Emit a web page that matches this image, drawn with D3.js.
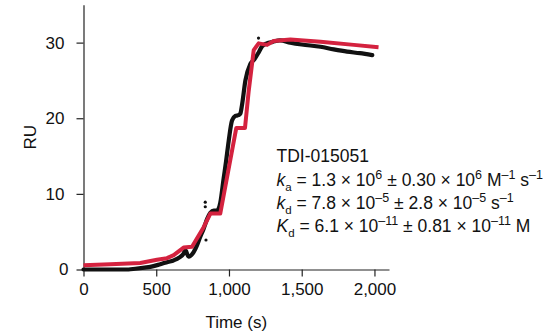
<!DOCTYPE html>
<html>
<head>
<meta charset="utf-8">
<script src="https://cdn.jsdelivr.net/npm/d3@7"></script>
<style>
  html, body { margin: 0; padding: 0; background: #fff; }
  svg { display: block; font-family: "Liberation Sans", Arial, sans-serif; }
</style>
</head>
<body>
<svg id="chart" width="560" height="336"></svg>
<script>
// ---- data ----
const xTicks = [0, 500, 1000, 1500, 2000];
const yTicks = [0, 10, 20, 30];

// measured sensorgram (black)
const dataTime = [0, 100, 184, 250, 310, 356, 420, 459, 528, 580, 619, 660, 688, 700, 722, 757, 780, 800, 826, 850, 872, 895, 918, 940, 963, 980, 998, 1021, 1044, 1065, 1078, 1090, 1113, 1147, 1175, 1204, 1227, 1260, 1300, 1350, 1422, 1500, 1629, 1720, 1812, 1900, 1985];
const dataRU   = [0, 0, 0, 0, 0, 0.1, 0.25, 0.35, 0.7, 1.0, 1.2, 1.6, 2.1, 2.55, 1.7, 2.3, 3.2, 4.2, 5.4, 6.7, 7.5, 7.8, 7.8, 8.8, 12.0, 14.3, 17.0, 19.7, 20.3, 20.4, 20.6, 21.8, 25.0, 27.2, 27.8, 28.7, 29.5, 29.9, 30.1, 30.3, 30.0, 29.75, 29.45, 29.1, 28.8, 28.6, 28.35];

// stray data points
const strayTime = [837, 837, 842, 1203];
const strayRU   = [8.9, 8.3, 3.9, 30.6];

// kinetic fit (red)
const fitTime = [0, 184, 390, 505, 574, 620, 688, 746, 826, 872, 940, 1050, 1110, 1135, 1170, 1204, 1262, 1307, 1422, 1629, 1858, 2028];
const fitRU   = [0.55, 0.7, 0.87, 1.3, 1.5, 1.9, 2.9, 3.0, 5.6, 7.4, 7.4, 18.7, 18.7, 23.5, 29.0, 29.9, 29.7, 30.2, 30.4, 30.1, 29.7, 29.4];

const xLabel = "Time (s)";
const yLabel = "RU";
const compound = "TDI-015051";

// ---- drawing ----
const svg = d3.select("#chart");
const x = d3.scaleLinear().domain([0, 2100]).range([83.5, 389]);
const y = d3.scaleLinear().domain([0, 35]).range([269.5, 4.8]);

const fmt = d3.format(",");

// axes
const gx = svg.append("g").attr("transform", `translate(0,${y(0)})`)
  .call(d3.axisBottom(x).tickValues(xTicks).tickFormat(fmt).tickSize(7).tickPadding(6).tickSizeOuter(0));
const gy = svg.append("g").attr("transform", `translate(${x(0)},0)`)
  .call(d3.axisLeft(y).tickValues(yTicks).tickSize(7).tickPadding(12).tickSizeOuter(0));

[gx, gy].forEach(g => {
  g.select(".domain").attr("stroke", "#222").attr("stroke-width", 1.2);
  g.selectAll(".tick line").attr("stroke", "#222").attr("stroke-width", 1.2);
  g.selectAll(".tick text").attr("fill", "#111").style("font-size", "17px")
    .style("font-family", "'Liberation Sans', Arial, sans-serif");
});
gy.selectAll(".tick text").filter(d => d === 0).attr("dx", 4);

// axis titles
svg.append("text").attr("x", (x(0) + x(2100)) / 2).attr("y", 328)
  .attr("text-anchor", "middle").style("font-size", "17px").attr("fill", "#111").text(xLabel);
svg.append("text").attr("transform", `translate(36,${(y(0) + y(35)) / 2}) rotate(-90)`)
  .attr("text-anchor", "middle").style("font-size", "17px").attr("fill", "#111").text(yLabel);

// data trace (black)
const dataPts = dataTime.map((t, i) => [t, dataRU[i]]);
const line = d3.line().x(d => x(d[0])).y(d => y(d[1])).curve(d3.curveMonotoneX);
svg.append("path").datum(dataPts).attr("d", line)
  .attr("fill", "none").attr("stroke", "#111").attr("stroke-width", 4.2)
  .attr("stroke-linecap", "round").attr("stroke-linejoin", "round");

svg.selectAll("circle.stray").data(strayTime.map((t, i) => [t, strayRU[i]]))
  .enter().append("circle").attr("class", "stray")
  .attr("cx", d => x(d[0])).attr("cy", d => y(d[1])).attr("r", 1.6).attr("fill", "#111");

// fit (red)
const fitPts = fitTime.map((t, i) => [t, fitRU[i]]);
const fitLine = d3.line().x(d => x(d[0])).y(d => y(d[1]));
svg.append("path").datum(fitPts).attr("d", fitLine)
  .attr("fill", "none").attr("stroke", "#d4223f").attr("stroke-width", 4)
  .attr("stroke-linecap", "butt").attr("stroke-linejoin", "round");

// annotation
const ax = 276.5;
const fs = 17.5;
const ss = "12.5px";
const ann = svg.append("g").style("font-size", fs + "px").attr("fill", "#111");
ann.append("text").attr("x", ax).attr("y", 162).text(compound);

function kineticLine(yPos, parts) {
  const t = ann.append("text").attr("x", ax).attr("y", yPos);
  parts.forEach(p => {
    const ts = t.append("tspan").text(p.s);
    if (p.i) ts.style("font-style", "italic");
    if (p.sub) ts.attr("dy", 5).style("font-size", "11.5px");
    if (p.sup) ts.attr("dy", -7).style("font-size", ss);
    if (p.back) ts.attr("dy", p.back);
  });
}
kineticLine(186, [
  {s: "k", i: true}, {s: "a", sub: true}, {s: " = 1.3 × 10", back: -5}, {s: "6", sup: true},
  {s: " ± 0.30 × 10", back: 7}, {s: "6", sup: true}, {s: " M", back: 7}, {s: "–1", sup: true},
  {s: " s", back: 7}, {s: "–1", sup: true}
]);
kineticLine(209, [
  {s: "k", i: true}, {s: "d", sub: true}, {s: " = 7.8 × 10", back: -5}, {s: "–5", sup: true},
  {s: " ± 2.8 × 10", back: 7}, {s: "–5", sup: true}, {s: " s", back: 7}, {s: "–1", sup: true}
]);
kineticLine(232, [
  {s: "K", i: true}, {s: "d", sub: true}, {s: " = 6.1 × 10", back: -5}, {s: "–11", sup: true},
  {s: " ± 0.81 × 10", back: 7}, {s: "–11", sup: true}, {s: " M", back: 7}
]);
</script>
</body>
</html>
